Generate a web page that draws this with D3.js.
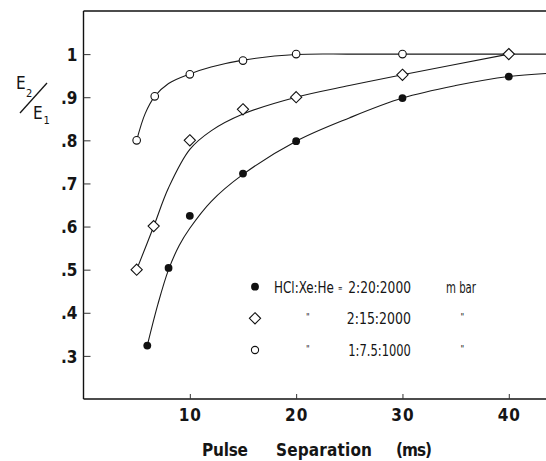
<!DOCTYPE html>
<html>
<head>
<meta charset="utf-8">
<script src="https://cdn.jsdelivr.net/npm/d3@7"></script>
<style>
  body { margin: 0; background: #fff; }
  svg text { font-family: "Liberation Sans Narrow", "DejaVu Sans Condensed", "Liberation Sans", Arial, sans-serif; fill: #151515; }
</style>
</head>
<body>
<svg id="chart" width="546" height="461"></svg>
<script>
// pulse separation (ms) vs E2/E1, three gas mixtures
var xTicks = [10, 20, 30, 40];
var yTicks = [0.3, 0.4, 0.5, 0.6, 0.7, 0.8, 0.9, 1.0];
var yTickLabels = [".3", ".4", ".5", ".6", ".7", ".8", ".9", "1"];

// measured points
var sepFilled = [6, 8, 10, 15, 20, 30, 40];
var ratioFilled = [0.324, 0.504, 0.625, 0.723, 0.798, 0.898, 0.948];
var sepDiamond = [5, 6.6, 10, 15, 20, 30, 40];
var ratioDiamond = [0.5, 0.601, 0.8, 0.872, 0.9, 0.952, 1.0];
var sepOpen = [5, 6.7, 10, 15, 20, 30];
var ratioOpen = [0.8, 0.902, 0.953, 0.985, 1.0, 1.0];

// hand drawn fit curves
var fitFilledX = [6, 7, 8, 9, 10, 12, 15, 20, 25, 30, 35, 40, 43.5];
var fitFilledY = [0.324, 0.42, 0.5, 0.556, 0.596, 0.658, 0.721, 0.798, 0.852, 0.898, 0.927, 0.948, 0.955];
var fitDiamondX = [5, 6.6, 8, 10, 12, 15, 20, 25, 30, 40];
var fitDiamondY = [0.5, 0.6, 0.69, 0.779, 0.822, 0.861, 0.9, 0.927, 0.952, 1.0];
var fitOpenX = [5, 5.8, 6.7, 8, 10, 12, 15, 20, 25, 30, 43.5];
var fitOpenY = [0.8, 0.862, 0.902, 0.932, 0.954, 0.97, 0.986, 0.999, 1.0, 1.0, 1.0];

var legendRatios = ["2:20:2000", "2:15:2000", "1:7.5:1000"];

var svg = d3.select("#chart");
var plotL = 83.5, plotR = 546, plotT = 11, plotB = 399;

var x = d3.scaleLinear().domain([0, 43.5]).range([plotL, plotR]);
var y = d3.scaleLinear().domain([0.2, 1.1]).range([plotB, plotT]);

function zip(xs, ys) {
  return xs.map(function(v, i) { return [v, ys[i]]; });
}

// frame: left axis + top rule + bottom axis
svg.append("line")
  .attr("x1", plotL).attr("x2", plotR).attr("y1", plotT).attr("y2", plotT)
  .attr("stroke", "#111").attr("stroke-width", 1.4);

var yAxis = svg.append("g")
  .attr("transform", "translate(" + plotL + ",0)")
  .call(d3.axisRight(y).tickValues(yTicks).tickSize(7)
    .tickFormat(function(d, i) { return yTickLabels[i]; }));
yAxis.select(".domain").attr("stroke", "#111").attr("stroke-width", 1.4)
  .attr("d", "M0," + plotT + "V" + plotB);
yAxis.selectAll(".tick line").attr("stroke", "#333").attr("stroke-width", 1);
yAxis.selectAll(".tick text")
  .attr("x", -6).attr("dy", "0.36em")
  .attr("text-anchor", "end")
  .style("font-size", "17px").style("font-weight", "bold");

var xAxis = svg.append("g")
  .attr("transform", "translate(0," + plotB + ")")
  .call(d3.axisTop(x).tickValues(xTicks).tickSize(5).tickFormat(d3.format("d")));
xAxis.select(".domain").attr("stroke", "#111").attr("stroke-width", 1.4)
  .attr("d", "M" + plotL + ",0H" + plotR);
xAxis.selectAll(".tick line").attr("stroke", "#333").attr("stroke-width", 1);
xAxis.selectAll(".tick text")
  .attr("y", 22).attr("dy", 0)
  .attr("text-anchor", "middle")
  .style("font-size", "17px").style("font-weight", "bold")
  .style("letter-spacing", "1px");

// axis title
var titleParts = [["Pulse", 202, 46], ["Separation", 276, 96], ["(ms)", 396, 36]];
svg.selectAll("text.xtitle")
  .data(titleParts)
  .enter().append("text")
  .attr("class", "xtitle")
  .attr("x", function(d) { return d[1]; })
  .attr("y", 456)
  .attr("textLength", function(d) { return d[2]; })
  .attr("lengthAdjust", "spacing")
  .style("font-size", "17px").style("font-weight", "bold")
  .text(function(d) { return d[0]; });

// E2/E1 label
var ylab = svg.append("g");
ylab.append("text").attr("x", 16).attr("y", 89).style("font-size", "17px").text("E");
ylab.append("text").attr("x", 26).attr("y", 96.5).style("font-size", "11px").text("2");
ylab.append("line").attr("x1", 20).attr("y1", 113).attr("x2", 47).attr("y2", 83)
  .attr("stroke", "#151515").attr("stroke-width", 1.3);
ylab.append("text").attr("x", 33).attr("y", 118.5).style("font-size", "17px").text("E");
ylab.append("text").attr("x", 43.5).attr("y", 124).style("font-size", "11px").text("1");

// curves
var line = d3.line()
  .x(function(d) { return x(d[0]); })
  .y(function(d) { return y(d[1]); })
  .curve(d3.curveCatmullRom.alpha(0.5));

[zip(fitOpenX, fitOpenY), zip(fitDiamondX, fitDiamondY), zip(fitFilledX, fitFilledY)]
  .forEach(function(pts) {
    svg.append("path")
      .attr("d", line(pts))
      .attr("fill", "none")
      .attr("stroke", "#1a1a1a")
      .attr("stroke-width", 1.1);
  });

// markers
function diamondPath(cx, cy, r) {
  return "M" + cx + "," + (cy - r) + "L" + (cx + r) + "," + cy +
    "L" + cx + "," + (cy + r) + "L" + (cx - r) + "," + cy + "Z";
}

svg.selectAll("circle.open")
  .data(zip(sepOpen, ratioOpen))
  .enter().append("circle")
  .attr("class", "open")
  .attr("cx", function(d) { return x(d[0]); })
  .attr("cy", function(d) { return y(d[1]); })
  .attr("r", 3.8)
  .attr("fill", "#fff").attr("stroke", "#111").attr("stroke-width", 1.1);

svg.selectAll("path.diamond")
  .data(zip(sepDiamond, ratioDiamond))
  .enter().append("path")
  .attr("class", "diamond")
  .attr("d", function(d) { return diamondPath(x(d[0]), y(d[1]), 5.6); })
  .attr("fill", "#fff").attr("stroke", "#111").attr("stroke-width", 1.1);

svg.selectAll("circle.filled")
  .data(zip(sepFilled, ratioFilled))
  .enter().append("circle")
  .attr("class", "filled")
  .attr("cx", function(d) { return x(d[0]); })
  .attr("cy", function(d) { return y(d[1]); })
  .attr("r", 3.9)
  .attr("fill", "#111");

// legend
var legY = [286.7, 318.3, 350];
var lg = svg.append("g");
lg.append("circle").attr("cx", 255).attr("cy", legY[0]).attr("r", 3.9).attr("fill", "#111");
lg.append("path").attr("d", diamondPath(255, legY[1], 5.6))
  .attr("fill", "#fff").attr("stroke", "#111").attr("stroke-width", 1.1);
lg.append("circle").attr("cx", 255).attr("cy", legY[2]).attr("r", 3.6)
  .attr("fill", "#fff").attr("stroke", "#111").attr("stroke-width", 1.1);

// squeeze text horizontally to a target width (narrow typewriter look)
function legText(tx, ty, w, s, size) {
  var t = lg.append("text")
    .attr("x", 0).attr("y", 0)
    .style("font-size", (size || 16) + "px")
    .text(s);
  var sx = 1;
  if (w) {
    var w0 = t.node().getComputedTextLength();
    if (w0 > 0) sx = w / w0;
  }
  t.attr("transform", "translate(" + tx + "," + ty + ") scale(" + sx + ",1)");
  return t;
}

legText(274, legY[0] + 6, 60, "HCl:Xe:He");
legText(338, legY[0] + 4, 4.5, "=", 9);
legendRatios.forEach(function(s, i) {
  var x0 = i === 1 ? 346.7 : 348.3;
  legText(x0, legY[i] + 6, 411 - x0, s);
});
legText(446, legY[0] + 6, 30, "m bar");
[1, 2].forEach(function(i) {
  legText(306, legY[i] + 2, 0, "\"", 9);
  legText(460.5, legY[i] + 2, 0, "\"", 9);
});
</script>
</body>
</html>
